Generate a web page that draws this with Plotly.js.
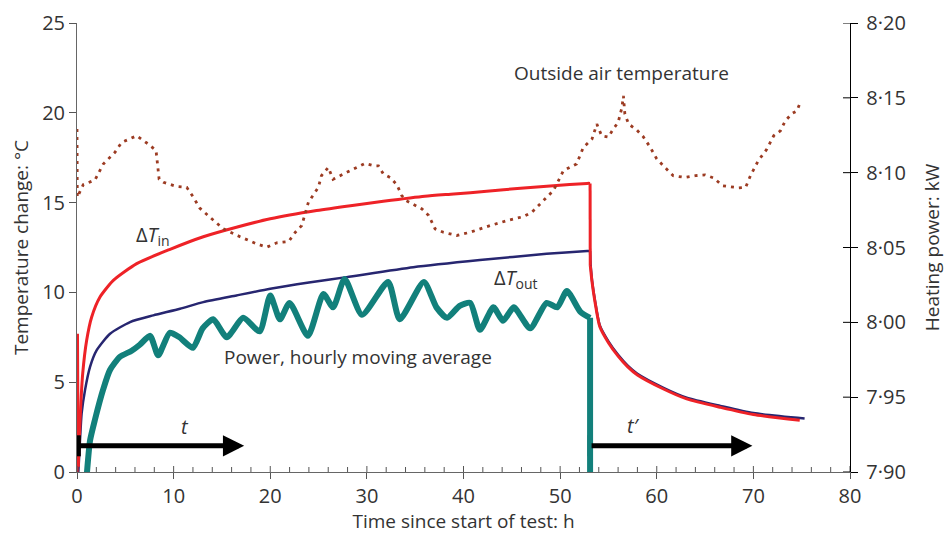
<!DOCTYPE html>
<html>
<head>
<meta charset="utf-8">
<script src="https://cdn.plot.ly/plotly-3.0.1.min.js"></script>
<style>html,body{margin:0;padding:0;background:#fff}#chart{width:949px;height:534px}</style>
</head>
<body>
<div id="chart"></div>
<script>
// ΔT_in (red), °C
const dTinTime  = [0, 0.05, 0.12, 0.24, 0.38, 0.59, 1.0, 1.52, 2.38, 3.76, 6.18, 9.63, 13.07, 16.5, 20.0, 24.8, 28.3, 31.7, 36.0, 39.0, 42.4, 45.9, 49.3, 52.8, 53.1, 53.12, 53.3, 53.6, 54.1, 55.0, 56.0, 57.0, 58.0, 60.7, 63.1, 66.6, 70.0, 74.8];
const dTinValue = [0, 7.7, 0.3, 1.78, 3.63, 5.48, 7.33, 8.63, 9.74, 10.67, 11.6, 12.4, 13.1, 13.63, 14.1, 14.56, 14.83, 15.07, 15.35, 15.48, 15.63, 15.8, 15.94, 16.07, 16.07, 11.5, 10.6, 9.5, 8.1, 7.2, 6.45, 5.85, 5.4, 4.62, 4.07, 3.6, 3.2, 2.88];

// ΔT_out (dark blue), °C
const dToutTime  = [0.14, 0.31, 0.48, 0.83, 1.35, 2.04, 3.42, 5.49, 7.9, 10.66, 13.07, 16.5, 20.0, 24.0, 27.9, 34.8, 41.7, 48.6, 52.8, 53.1, 53.15, 53.3, 53.6, 54.1, 55.0, 56.0, 57.0, 58.0, 60.7, 63.1, 66.6, 70.0, 75.3];
const dToutValue = [0, 1.78, 3.26, 4.56, 5.85, 6.78, 7.7, 8.35, 8.72, 9.09, 9.46, 9.83, 10.2, 10.55, 10.85, 11.4, 11.8, 12.15, 12.3, 12.3, 11.57, 10.67, 9.57, 8.17, 7.27, 6.52, 5.92, 5.47, 4.69, 4.14, 3.68, 3.28, 2.98];

// Heating power, hourly moving average (teal), kW
const powerTime  = [1.0, 1.35, 1.86, 2.7, 3.4, 4.45, 5.66, 6.5, 7.56, 8.4, 9.6, 10.6, 12.0, 13.0, 14.1, 15.5, 17.2, 18.9, 20.0, 21.0, 22.0, 23.9, 25.5, 26.5, 27.7, 29.5, 32.2, 33.4, 35.9, 37.2, 38.3, 39.6, 40.7, 41.7, 43.1, 44.1, 45.2, 46.9, 48.6, 49.7, 50.7, 52.1, 53.1, 53.1];
const powerValue = [7.897, 7.921, 7.935, 7.955, 7.968, 7.977, 7.981, 7.985, 7.991, 7.978, 7.993, 7.990, 7.983, 7.996, 8.002, 7.990, 8.003, 7.994, 8.018, 8.002, 8.013, 7.991, 8.019, 8.010, 8.029, 8.005, 8.027, 8.002, 8.027, 8.010, 8.003, 8.011, 8.013, 7.995, 8.010, 8.001, 8.010, 7.996, 8.013, 8.010, 8.021, 8.007, 8.003, 7.897];

// Outside air temperature (brown dotted), °C
const airTime = [0, 0.03, 0.65, 1.86, 2.72, 3.93, 4.62, 6.18, 7.38, 8.18, 8.5, 8.94, 10.3, 11.36, 12.04, 12.7, 13.77, 15.14, 16.87, 18.6, 19.64, 20.67, 21.9, 22.6, 23.26, 23.95, 24.98, 25.3, 26.0, 26.5, 27.6, 28.6, 29.8, 30.7, 31.2, 31.7, 32.4, 33.1, 33.6, 34.1, 35.7, 36.4, 37.06, 37.9, 39.3, 40.7, 42.75, 44.8, 46.2, 47.07, 47.75, 48.6, 49.3, 49.66, 50.34, 51.7, 52.4, 53.3, 53.8, 54.3, 55.0, 55.5, 56.0, 56.4, 56.55, 56.7, 57.1, 57.9, 58.6, 59.3, 60.0, 60.9, 61.7, 62.9, 64.0, 65.0, 65.9, 66.8, 67.6, 68.5, 69.2, 69.7, 70.5, 71.4, 72.1, 72.8, 73.3, 74.0, 74.5, 74.85];
const airTemp = [19.1, 15.3, 16.0, 16.26, 17.15, 17.8, 18.35, 18.72, 18.26, 17.9, 16.3, 16.13, 15.9, 15.85, 15.3, 14.7, 14.18, 13.54, 13.1, 12.7, 12.52, 12.76, 12.83, 13.35, 13.72, 15.02, 15.85, 16.5, 16.96, 16.3, 16.6, 16.87, 17.18, 17.05, 17.05, 16.6, 16.4, 16.0, 15.4, 15.1, 14.65, 14.28, 13.54, 13.35, 13.17, 13.35, 13.72, 14.04, 14.22, 14.46, 14.83, 15.3, 15.67, 16.04, 16.78, 17.15, 18.07, 18.54, 19.37, 18.72, 18.65, 19.1, 19.46, 20.3, 20.94, 19.93, 19.37, 19.06, 18.67, 18.1, 17.43, 16.93, 16.5, 16.4, 16.5, 16.54, 16.37, 15.94, 15.9, 15.82, 15.85, 16.5, 17.33, 17.98, 18.72, 19.0, 19.55, 19.96, 20.1, 20.57];

// Time arrows t and t′
const arrowStart = [0.14, 53.1];
const arrowEnd   = [17.3, 69.9];
const arrowLevel = [1.46, 1.46];
const arrowLabels = ['<i>t</i>', '<i>t′</i>'];
const arrowLabelX = [11.2, 57.6];
const arrowLabelY = [2.55, 2.6];

// Axis ticks
const xRange = [0, 80];
const xMajorStep = 10, xMinorStep = 2;
const tempTicks = [0, 5, 10, 15, 20, 25];
const powerTicks = [7.90, 7.95, 8.00, 8.05, 8.10, 8.15, 8.20];
const powerTickText = ['7·90', '7·95', '8·00', '8·05', '8·10', '8·15', '8·20'];

const RED = '#ee2227', BLUE = '#272670', TEAL = '#12807b', BROWN = '#9c3b22';

// piece of a series between two indices (inclusive), drawn with the given line shape
function piece(xs, ys, i0, i1, line, yaxis) {
  return {x: xs.slice(i0, i1 + 1), y: ys.slice(i0, i1 + 1), yaxis: yaxis || 'y',
          type: 'scatter', mode: 'lines', line: line, hoverinfo: 'skip'};
}
const nP = powerTime.length - 1, nI = dTinTime.length - 1, nO = dToutTime.length - 1;
const tealLine = {color: TEAL, width: 6};
const blueLine = {color: BLUE, width: 2.5};
const redLine = {color: RED, width: 3};
const sp = (l, s) => Object.assign({shape: 'spline', smoothing: s}, l);

const traces = [
  piece(powerTime, powerValue, 0, nP - 1, sp(tealLine, 0.6), 'y2'),
  piece(powerTime, powerValue, nP - 1, nP, tealLine, 'y2'),
  piece(dToutTime, dToutValue, 0, 19, sp(blueLine, 0.6)),
  piece(dToutTime, dToutValue, 19, 20, blueLine),
  piece(dToutTime, dToutValue, 20, nO, sp(blueLine, 0.6)),
  piece(dTinTime, dTinValue, 0, 2, redLine),
  piece(dTinTime, dTinValue, 2, 24, sp(redLine, 0.6)),
  piece(dTinTime, dTinValue, 24, 25, redLine),
  piece(dTinTime, dTinValue, 25, nI, sp(redLine, 0.6)),
  {x: airTime, y: airTemp, type: 'scatter', mode: 'lines',
   line: {color: BROWN, width: 2.8, dash: '3px,5px'}, hoverinfo: 'skip'},
  {x: arrowStart, y: arrowLevel, type: 'scatter', mode: 'markers',
   marker: {symbol: 'line-ns', size: 15, line: {color: '#000', width: 5}}, hoverinfo: 'skip'}
];

const annotations = [
  {x: 45.0, y: 22.2, text: 'Outside air temperature', xanchor: 'left', yanchor: 'middle'},
  {x: 15.0, y: 6.4, text: 'Power, hourly moving average', xanchor: 'left', yanchor: 'middle'},
  {x: 5.9, y: 13.15, text: 'Δ<i>T</i><sub>in</sub>', xanchor: 'left', yanchor: 'middle', font: {size: 20, color: '#333'}},
  {x: 43.0, y: 10.75, text: 'Δ<i>T</i><sub>out</sub>', xanchor: 'left', yanchor: 'middle', font: {size: 20, color: '#333'}}
].map(a => Object.assign({xref: 'x', yref: 'y', showarrow: false, font: {size: 19, color: '#333'}}, a));

for (let i = 0; i < arrowStart.length; i++) {
  annotations.push({x: arrowEnd[i], y: arrowLevel[i], ax: arrowStart[i], ay: arrowLevel[i],
    xref: 'x', yref: 'y', axref: 'x', ayref: 'y', text: '', showarrow: true,
    arrowhead: 2, arrowsize: 0.85, arrowwidth: 5, arrowcolor: '#000', standoff: 0, startstandoff: 0});
  annotations.push({x: arrowLabelX[i], y: arrowLabelY[i], xref: 'x', yref: 'y', text: arrowLabels[i],
    showarrow: false, xanchor: 'center', yanchor: 'middle', font: {size: 20, color: '#333'}});
}

// Inward halves of the axis ticks (x minor + major ticks point up, right-axis ticks cross the line)
const shapes = [];
for (let v = xRange[0]; v <= xRange[1]; v += xMinorStep) {
  const isMajor = (v % xMajorStep) === 0;
  shapes.push({type: 'line', xref: 'x', yref: 'y', x0: v, x1: v, ysizemode: 'pixel', yanchor: 0,
    y0: 0, y1: isMajor ? 6 : 5, line: {color: '#555', width: 1}, layer: 'above'});
}
powerTicks.forEach(v => {
  shapes.push({type: 'line', xref: 'x', yref: 'y2', y0: v, y1: v, xsizemode: 'pixel', xanchor: xRange[1],
    x0: -7, x1: 0, line: {color: '#000', width: 1}, layer: 'above'});
});

const tickFont = {family: '"Open Sans", sans-serif', size: 20, color: '#333'};

const layout = {
  width: 949, height: 534,
  margin: {l: 77, r: 99, t: 23, b: 62, pad: 0},
  paper_bgcolor: '#fff', plot_bgcolor: '#fff',
  font: {family: '"Open Sans", "Noto Sans", sans-serif', size: 18, color: '#333'},
  showlegend: false,
  xaxis: {range: xRange, tickmode: 'linear', tick0: 0, dtick: xMajorStep, ticks: 'outside', ticklen: 6,
    tickcolor: '#555', tickwidth: 1, tickfont: tickFont,
    showline: true, linecolor: '#666', linewidth: 1, showgrid: false, zeroline: false, anchor: 'y',
    title: {text: 'Time since start of test: h', standoff: 2, font: {size: 19, color: '#333'}}},
  yaxis: {range: [0, 25], tickvals: tempTicks, ticks: 'outside', ticklen: 7, tickcolor: '#555', tickfont: tickFont,
    showline: true, linecolor: '#666', linewidth: 1, showgrid: false, zeroline: false,
    title: {text: 'Temperature change: °C', standoff: 8, font: {size: 19, color: '#333'}}},
  yaxis2: {range: [7.9, 8.2], overlaying: 'y', side: 'right', anchor: 'x', tickvals: powerTicks,
    ticktext: powerTickText, ticks: 'outside', ticklen: 7, tickcolor: '#000', tickfont: tickFont,
    ticklabelstandoff: 4, showline: true,
    linecolor: '#000', linewidth: 1.3, showgrid: false, zeroline: false,
    title: {text: 'Heating power: kW', standoff: 20, font: {size: 19, color: '#333'}}},
  shapes: shapes,
  annotations: annotations
};

Plotly.newPlot('chart', traces, layout, {displayModeBar: false, staticPlot: true});
</script>
</body>
</html>
